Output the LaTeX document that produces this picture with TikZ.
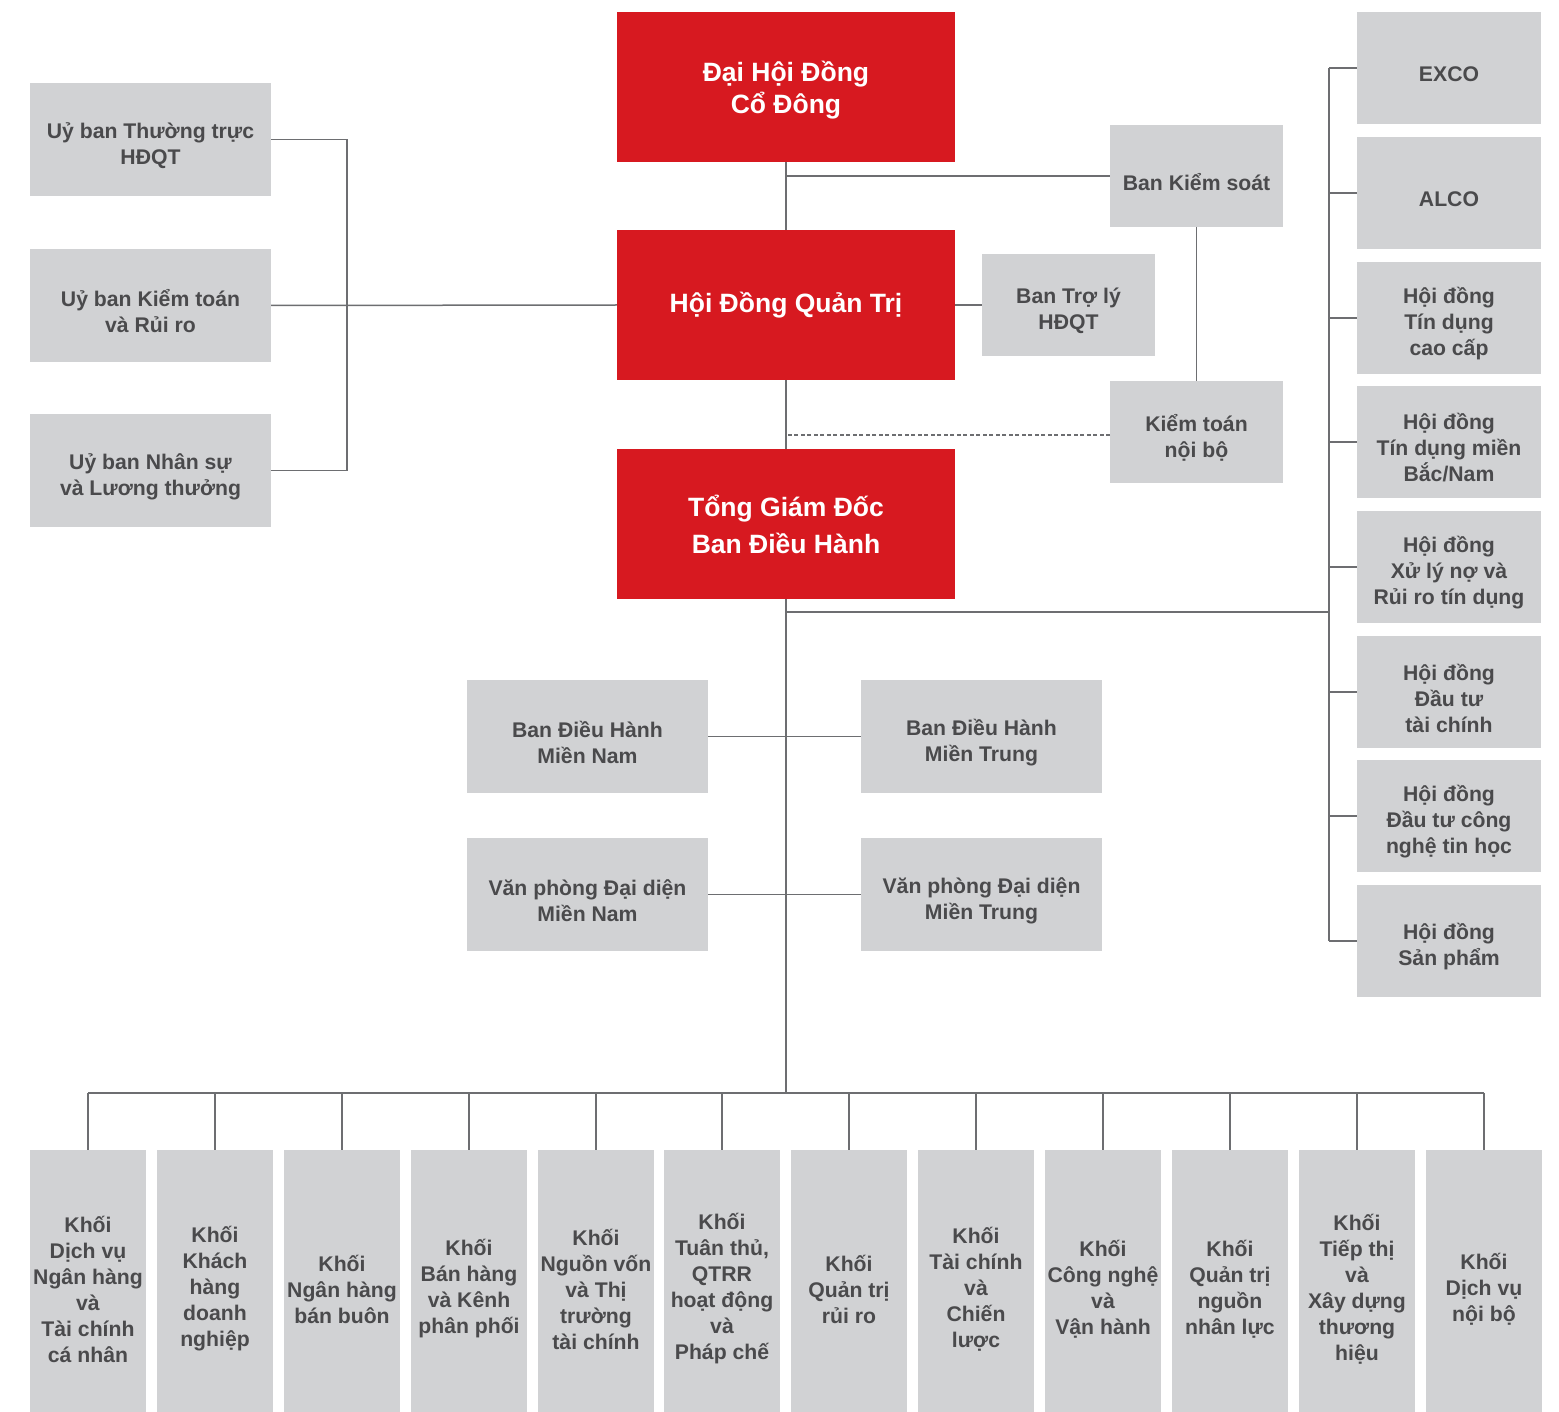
\documentclass[tikz,border=0pt]{standalone}
\usepackage{fontspec}
\setmainfont{Liberation Sans}
\definecolor{redbox}{HTML}{D71920}
\definecolor{graybox}{HTML}{D1D2D4}
\definecolor{graytext}{HTML}{4A4A4C}
\definecolor{linecol}{HTML}{6D6E71}
\begin{document}
\begin{tikzpicture}[x=1pt,y=-1pt,
  redb/.style={fill=redbox,draw=none,inner sep=0pt,text=white,align=center,
    font=\bfseries\fontsize{26.5}{32}\selectfont,minimum width=338pt,minimum height=150pt},
  gl/.style={text=graytext,align=center,inner sep=0pt,yshift=-6pt,
    font=\bfseries\fontsize{21.2}{26}\selectfont},
  grayb/.style={fill=graybox,draw=none,inner sep=0pt,label={[gl]center:{#1}}},
  midb/.style={grayb={#1},minimum width=241pt,minimum height=113pt},
  smallb/.style={grayb={#1},minimum width=173pt,minimum height=102pt},
  rightb/.style={grayb={#1},minimum width=184pt,minimum height=112pt},
  botb/.style={grayb={#1},minimum width=116pt,minimum height=266pt},
  conn/.style={draw=linecol,line width=1.5pt},
  dconn/.style={conn,dash pattern=on 4pt off 2.5pt}]
\useasboundingbox (0,0) rectangle (1559,1412);
% red boxes
\node[redb,text depth=-7pt] (dhdcd) at (786,87) {Đại Hội Đồng\\Cổ Đông};
\node[redb] (hdqt) at (786,305) {Hội Đồng Quản Trị};
\node[redb,font=\bfseries\fontsize{26.5}{37}\selectfont] (tgd) at (786,524) {Tổng Giám Đốc\\Ban Điều Hành};
% left committees
\node[midb={Uỷ ban Thường trực\\HĐQT}] (uy1) at (150.5,139.5) {};
\node[midb={Uỷ ban Kiểm toán\\và Rủi ro}] (uy2) at (150.5,305.5) {};
\node[midb={Uỷ ban Nhân sự\\và Lương thưởng}] (uy3) at (150.5,470.5) {};
% small boxes
\node[smallb={Ban Kiểm soát}] (bks) at (1196.5,176) {};
\node[smallb={Ban Trợ lý\\HĐQT}] (btl) at (1068.5,305) {};
\node[smallb={Kiểm toán\\nội bộ}] (ktnb) at (1196.5,432) {};
% right column
\node[rightb={EXCO}] (r1) at (1449,68) {};
\node[rightb={ALCO}] (r2) at (1449,193) {};
\node[rightb={Hội đồng\\Tín dụng\\cao cấp}] (r3) at (1449,318) {};
\node[rightb={Hội đồng\\Tín dụng miền\\Bắc/Nam}] (r4) at (1449,442) {};
\node[rightb={Hội đồng\\Xử lý nợ và\\Rủi ro tín dụng}] (r5) at (1449,567) {};
\node[rightb={Hội đồng\\Đầu tư\\tài chính}] (r6) at (1449,692) {};
\node[rightb={Hội đồng\\Đầu tư công\\nghệ tin học}] (r7) at (1449,816) {};
\node[rightb={Hội đồng\\Sản phẩm}] (r8) at (1449,941) {};
% middle boxes
\node[midb={Ban Điều Hành\\Miền Nam}] (bdhmn) at (587.5,736.5) {};
\node[midb={Ban Điều Hành\\Miền Trung}] (bdhmt) at (981.5,736.5) {};
\node[midb={Văn phòng Đại diện\\Miền Nam}] (vpmn) at (587.5,894.5) {};
\node[midb={Văn phòng Đại diện\\Miền Trung}] (vpmt) at (981.5,894.5) {};
% bottom boxes
\node[botb={Khối\\Dịch vụ\\Ngân hàng\\và\\Tài chính\\cá nhân}] (b1) at (88,1283) {};
\node[botb={Khối\\Khách\\hàng\\doanh\\nghiệp}] (b2) at (215,1283) {};
\node[botb={Khối\\Ngân hàng\\bán buôn}] (b3) at (342,1283) {};
\node[botb={Khối\\Bán hàng\\và Kênh\\phân phối}] (b4) at (469,1283) {};
\node[botb={Khối\\Nguồn vốn\\và Thị\\trường\\tài chính}] (b5) at (596,1283) {};
\node[botb={Khối\\Tuân thủ,\\QTRR\\hoạt động\\và\\Pháp chế}] (b6) at (722,1283) {};
\node[botb={Khối\\Quản trị\\rủi ro}] (b7) at (849,1283) {};
\node[botb={Khối\\Tài chính\\và\\Chiến\\lược}] (b8) at (976,1283) {};
\node[botb={Khối\\Công nghệ\\và\\Vận hành}] (b9) at (1103,1283) {};
\node[botb={Khối\\Quản trị\\nguồn\\nhân lực}] (b10) at (1230,1283) {};
\node[botb={Khối\\Tiếp thị\\và\\Xây dựng\\thương\\hiệu}] (b11) at (1357,1283) {};
\node[botb={Khối\\Dịch vụ\\nội bộ}] (b12) at (1484,1283) {};
% helper coordinates
\coordinate (lbus) at (347,305);
\coordinate (j1) at (786,612);
\coordinate (rbus) at (1329,612);
\coordinate (bbus) at (786,1093);
\coordinate (dash) at (1110,435);
% connectors
\draw[conn] (dhdcd.south) -- (hdqt.north);
\draw[conn] (hdqt.south) -- (tgd.north);
\draw[conn] (tgd.south) -- (bbus);
\draw[conn] (bks.west) -- (bks.west -| dhdcd.south);
\draw[conn] (bks.south) -- (ktnb.north);
\draw[dconn] (dash) -- (dash -| hdqt.south);
\draw[conn] (hdqt.east) -- (btl.west);
\draw[conn] (uy2.east) -- (hdqt.west);
\draw[conn] (uy1.east) -- (uy1.east -| lbus) -- (uy3.east -| lbus) -- (uy3.east);
\draw[conn] (j1) -- (rbus);
\draw[conn] (r1.west -| rbus) -- (r8.west -| rbus);
\foreach \i in {1,...,8} {\draw[conn] (r\i.west) -- (r\i.west -| rbus);}
\draw[conn] (bdhmn.east) -- (bdhmt.west);
\draw[conn] (vpmn.east) -- (vpmt.west);
\draw[conn] (b1.north |- bbus) -- (b12.north |- bbus);
\foreach \i in {1,...,12} {\draw[conn] (b\i.north) -- (b\i.north |- bbus);}
\end{tikzpicture}
\end{document}
